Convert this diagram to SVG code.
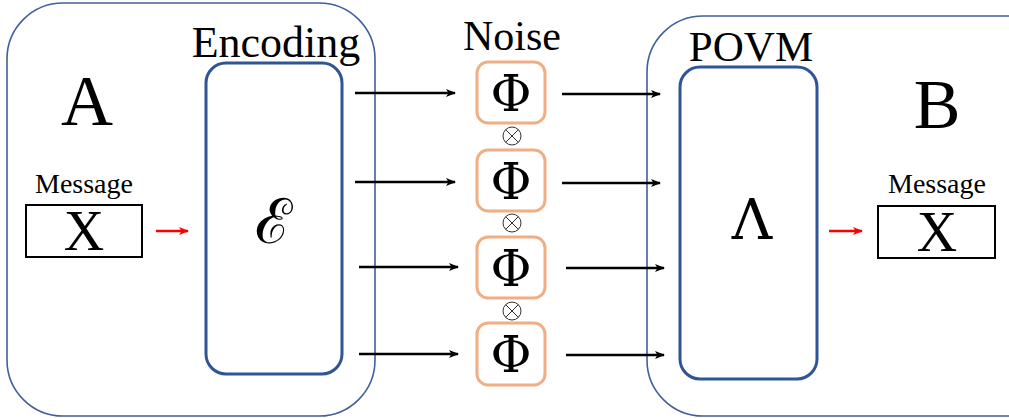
<svg xmlns="http://www.w3.org/2000/svg" width="1009" height="418" viewBox="0 0 1009 418">
  <style>
    .serif { font-family: "Liberation Serif", "DejaVu Serif", serif; fill: #000; text-anchor: middle; }
    .greek { font-family: "DejaVu Serif", "Liberation Serif", serif; fill: #000; text-anchor: middle; }
    .party { fill: none; stroke: #41609a; stroke-width: 1.6; }
    .block { fill: none; stroke: #2f5597; stroke-width: 3; }
    .noise { fill: #fff; stroke: #f0ae84; stroke-width: 3; }
    .msg { fill: #fff; stroke: #000; stroke-width: 2; }
    .wire { stroke: #000; stroke-width: 2.5; fill: none; }
    .red { stroke: #ff0000; stroke-width: 2.5; fill: none; }
    .otimes { fill: #fff; stroke: #333; stroke-width: 1; }
    .phi { font-size: 50px; }
  </style>
  <defs>
    <marker id="headBlack" viewBox="0 0 10 8" refX="9" refY="4" markerWidth="10" markerHeight="8" markerUnits="userSpaceOnUse" orient="auto">
      <path d="M0,0 L10,4 L0,8 L2.5,4 Z" fill="#000"/>
    </marker>
    <marker id="headRed" viewBox="0 0 10 8" refX="9" refY="4" markerWidth="10" markerHeight="8" markerUnits="userSpaceOnUse" orient="auto">
      <path d="M0,0 L10,4 L0,8 L2.5,4 Z" fill="#ff0000"/>
    </marker>
    <g id="otimesGlyph">
      <circle class="otimes" r="9"/>
      <path class="otimes" d="M-6.4,-6.4 L6.4,6.4 M-6.4,6.4 L6.4,-6.4"/>
    </g>
  </defs>

  <!-- Sender A -->
  <g id="partyA">
    <rect class="party" x="7" y="3" width="368" height="413" rx="56"/>
    <text class="serif" x="87" y="125" font-size="72">A</text>
  </g>
  <g id="messageA">
    <text class="serif" x="84" y="193" font-size="28">Message</text>
    <rect class="msg" x="26" y="205" width="116" height="52"/>
    <text class="serif" x="84" y="250" font-size="56">X</text>
  </g>
  <g id="encoding">
    <text class="serif" x="276" y="57" font-size="44">Encoding</text>
    <rect class="block" x="206" y="63" width="136" height="311" rx="20"/>
    <text x="273" y="243" font-size="62" text-anchor="middle" font-family="DejaVu Serif, serif">ℰ</text>
  </g>

  <!-- Noisy channels -->
  <g id="noise">
    <text class="serif" x="512" y="50" font-size="42">Noise</text>
  </g>
  <g id="channel1">
    <rect class="noise" x="477" y="62" width="68" height="61" rx="11"/>
    <text class="greek phi" x="511" y="111">Φ</text>
  </g>
  <g id="channel2">
    <rect class="noise" x="477" y="150" width="68" height="61" rx="11"/>
    <text class="greek phi" x="511" y="199">Φ</text>
  </g>
  <g id="channel3">
    <rect class="noise" x="477" y="237" width="68" height="61" rx="11"/>
    <text class="greek phi" x="511" y="286">Φ</text>
  </g>
  <g id="channel4">
    <rect class="noise" x="477" y="323" width="68" height="62" rx="11"/>
    <text class="greek phi" x="511" y="372">Φ</text>
  </g>
  <g id="tensor">
    <use href="#otimesGlyph" x="512" y="136"/>
    <use href="#otimesGlyph" x="512" y="223"/>
    <use href="#otimesGlyph" x="512" y="311"/>
  </g>

  <!-- Receiver B -->
  <g id="partyB">
    <rect class="party" x="647" y="16" width="420" height="400" rx="56"/>
    <text class="serif" x="937" y="128" font-size="70">B</text>
  </g>
  <g id="povm">
    <text class="serif" x="751" y="61" font-size="43">POVM</text>
    <rect class="block" x="680" y="67" width="137" height="312" rx="20"/>
    <text class="greek" x="752" y="239" font-size="56">Λ</text>
  </g>
  <g id="messageB">
    <text class="serif" x="937" y="193" font-size="28">Message</text>
    <rect class="msg" x="878" y="206" width="117" height="52"/>
    <text class="serif" x="937" y="251" font-size="56">X</text>
  </g>

  <!-- Connectors -->
  <g id="connectors">
    <line class="red" x1="156" y1="231" x2="188" y2="231" marker-end="url(#headRed)"/>
    <line class="wire" x1="355" y1="93" x2="455" y2="93" marker-end="url(#headBlack)"/>
    <line class="wire" x1="355" y1="182" x2="455" y2="182" marker-end="url(#headBlack)"/>
    <line class="wire" x1="359" y1="267" x2="458" y2="267" marker-end="url(#headBlack)"/>
    <line class="wire" x1="359" y1="354" x2="458" y2="354" marker-end="url(#headBlack)"/>
    <line class="wire" x1="562" y1="94" x2="660" y2="94" marker-end="url(#headBlack)"/>
    <line class="wire" x1="562" y1="183" x2="660" y2="183" marker-end="url(#headBlack)"/>
    <line class="wire" x1="566" y1="268" x2="664" y2="268" marker-end="url(#headBlack)"/>
    <line class="wire" x1="566" y1="355" x2="664" y2="355" marker-end="url(#headBlack)"/>
    <line class="red" x1="829" y1="231" x2="862" y2="231" marker-end="url(#headRed)"/>
  </g>
</svg>
